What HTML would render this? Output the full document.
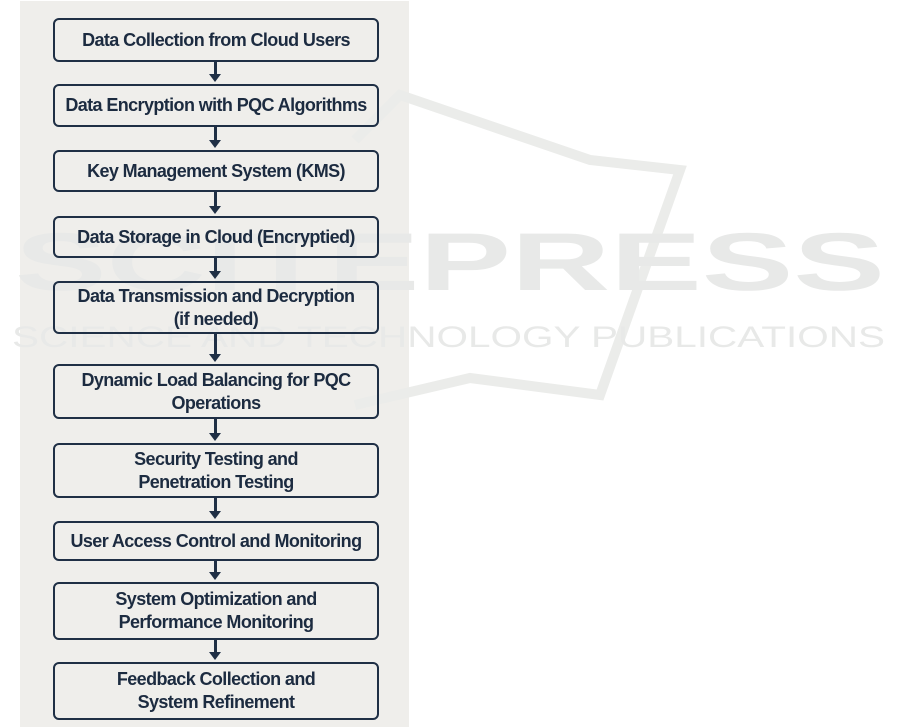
<!DOCTYPE html>
<html><head><meta charset="utf-8"><style>
body{margin:0;width:901px;height:728px;background:#fff;position:relative;overflow:hidden;font-family:"Liberation Sans",sans-serif}
#panel{position:absolute;left:20px;top:1px;width:389px;height:726px;background:#efeeeb}
svg.wm{position:absolute;left:0;top:0}
.b{position:absolute;left:53px;border:2px solid #1f2f45;border-radius:6px;display:flex;align-items:center;justify-content:center;text-align:center;color:#1c2b40;font-weight:bold;font-size:18px;line-height:23px;letter-spacing:-0.6px;box-sizing:border-box;width:326px}
.a{position:absolute;left:214px;width:3px;background:#1f2f45}
.h{position:absolute;left:209px;width:0;height:0;border-left:6.5px solid transparent;border-right:6.5px solid transparent;border-top:8px solid #1f2f45}
</style></head><body>
<div id="panel"></div>
<svg class="wm" width="901" height="728">
<g fill="none" stroke="#ebecea" stroke-width="10"><path d="M355 140 L400 95 L590 160 L680 170 L600 395 L470 378 L355 405"/></g>
<text x="15" y="290" font-family="Liberation Sans" font-weight="bold" font-size="82" fill="#e8e9e8" textLength="870" lengthAdjust="spacingAndGlyphs">SCITEPRESS</text>
<text x="12" y="347" font-family="Liberation Sans" font-size="30" fill="#e8e9e8" textLength="873" lengthAdjust="spacingAndGlyphs">SCIENCE AND TECHNOLOGY PUBLICATIONS</text>
</svg>
<div class="b" style="top:18px;height:44px">Data Collection from Cloud Users</div>
<div class="b" style="top:84px;height:43px">Data Encryption with PQC Algorithms</div>
<div class="b" style="top:150px;height:42px">Key Management System (KMS)</div>
<div class="b" style="top:216px;height:42px">Data Storage in Cloud (Encryptied)</div>
<div class="b" style="top:281px;height:53px">Data Transmission and Decryption<br>(if needed)</div>
<div class="b" style="top:364px;height:55px">Dynamic Load Balancing for PQC<br>Operations</div>
<div class="b" style="top:443px;height:55px">Security Testing and<br>Penetration Testing</div>
<div class="b" style="top:521px;height:40px">User Access Control and Monitoring</div>
<div class="b" style="top:582px;height:58px">System Optimization and<br>Performance Monitoring</div>
<div class="b" style="top:662px;height:58px">Feedback Collection and<br>System Refinement</div>

<div class="a" style="top:62px;height:14px"></div><div class="h" style="top:74px"></div>
<div class="a" style="top:127px;height:15px"></div><div class="h" style="top:140px"></div>
<div class="a" style="top:192px;height:16px"></div><div class="h" style="top:206px"></div>
<div class="a" style="top:258px;height:15px"></div><div class="h" style="top:271px"></div>
<div class="a" style="top:334px;height:22px"></div><div class="h" style="top:354px"></div>
<div class="a" style="top:419px;height:16px"></div><div class="h" style="top:433px"></div>
<div class="a" style="top:498px;height:15px"></div><div class="h" style="top:511px"></div>
<div class="a" style="top:561px;height:13px"></div><div class="h" style="top:572px"></div>
<div class="a" style="top:640px;height:14px"></div><div class="h" style="top:652px"></div>
</body></html>
